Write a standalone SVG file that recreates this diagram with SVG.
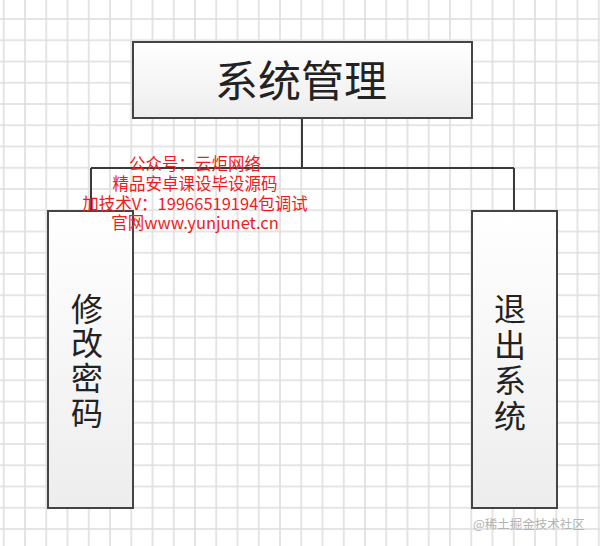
<svg xmlns="http://www.w3.org/2000/svg" width="600" height="546" viewBox="0 0 600 546">
  <defs>
    <pattern id="grid" patternUnits="userSpaceOnUse" x="-6.875" y="8.375" width="21.25" height="21.25">
      <path d="M10.625 0 V21.25 M0 10.625 H21.25" stroke="#dddddd" stroke-width="1.5" fill="none"/>
    </pattern>
    <linearGradient id="boxfill" x1="0" y1="0" x2="0" y2="1">
      <stop offset="0" stop-color="#ffffff"/>
      <stop offset="1" stop-color="#ededed"/>
    </linearGradient>
  </defs>
  <style>
    .box { fill: url(#boxfill); stroke: #444444; stroke-width: 2; }
    .conn { stroke: #3a3a3a; stroke-width: 2; fill: none; }
    .label { font-family: "Noto Sans CJK SC", "Noto Sans", sans-serif; fill: #222222; dominant-baseline: central; text-anchor: middle; }
    .v { font-size: 32px; }
    .ad { font-family: "Noto Sans CJK SC", "Noto Sans", sans-serif; fill: #ee1c1c; font-size: 16.5px; dominant-baseline: central; text-anchor: middle; }
    .wm { font-family: "Noto Sans CJK SC", "Noto Sans", sans-serif; fill: #b3b3b3; font-size: 12.5px; dominant-baseline: central; }
  </style>
  <rect x="0" y="0" width="600" height="546" fill="#ffffff"/>
  <rect x="0" y="0" width="600" height="546" fill="url(#grid)"/>

  <g id="connectors">
    <path class="conn" d="M302 118 V168"/>
    <path class="conn" d="M91 168 H514"/>
    <path class="conn" d="M91 168 V211"/>
    <path class="conn" d="M514 168 V211"/>
  </g>

  <g id="node-system">
    <rect class="box" x="133" y="42" width="339" height="76"/>
    <text class="label" x="301" y="78" font-size="43">系统管理</text>
  </g>

  <g id="node-password">
    <rect class="box" x="48" y="211" width="85" height="297"/>
    <text class="label v" x="87" y="306.5">修</text>
    <text class="label v" x="87" y="341.3">改</text>
    <text class="label v" x="87" y="376.1">密</text>
    <text class="label v" x="87" y="410.9">码</text>
  </g>

  <g id="node-exit">
    <rect class="box" x="472" y="211" width="85" height="297"/>
    <text class="label v" x="510" y="306.7">退</text>
    <text class="label v" x="510" y="342.5">出</text>
    <text class="label v" x="510" y="378.3">系</text>
    <text class="label v" x="510" y="414.1">统</text>
  </g>

  <g id="overlay-text">
    <text class="ad" x="195" y="163">公众号：云炬网络</text>
    <text class="ad" x="195" y="183">精品安卓课设毕设源码</text>
    <text class="ad" x="195" y="202.7">加技术V：19966519194包调试</text>
    <text class="ad" x="195" y="221.7">官网www.yunjunet.cn</text>
  </g>

  <g id="watermark">
    <text class="wm" x="473" y="523">@稀土掘金技术社区</text>
  </g>
</svg>
